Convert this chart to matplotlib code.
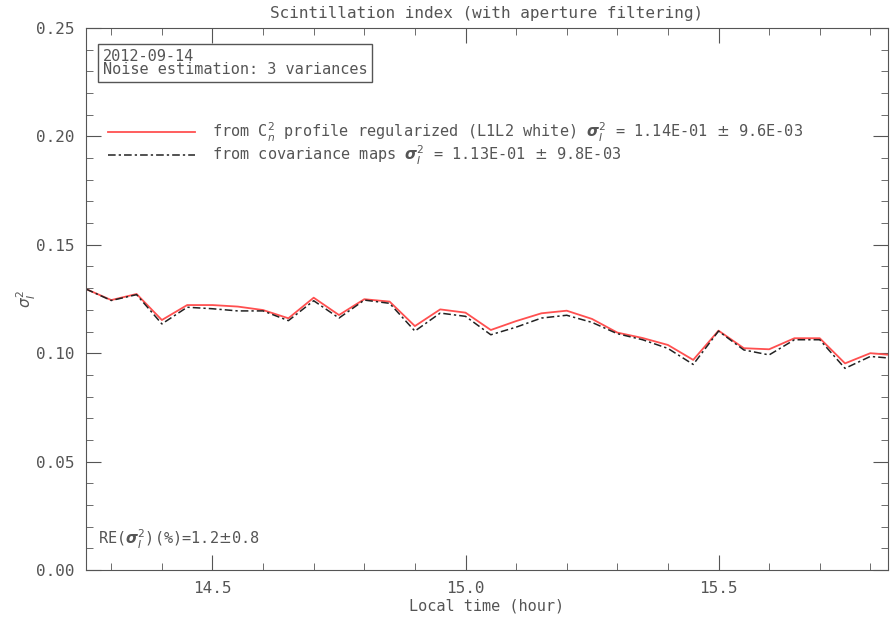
import numpy as np
import matplotlib.pyplot as plt
from matplotlib.ticker import MultipleLocator

# local time (hour), one sample every 3 minutes
hours = [14.25, 14.30, 14.35, 14.40, 14.45, 14.50, 14.55, 14.60, 14.65, 14.70,
         14.75, 14.80, 14.85, 14.90, 14.95, 15.00, 15.05, 15.10, 15.15, 15.20,
         15.25, 15.30, 15.35, 15.40, 15.45, 15.50, 15.55, 15.60, 15.65, 15.70,
         15.75, 15.80, 15.85]
sig_cn2 = [0.1296, 0.1245, 0.1273, 0.1153, 0.1222, 0.1222, 0.1215, 0.1199, 0.1161, 0.1256,
           0.1176, 0.1249, 0.1238, 0.1125, 0.1202, 0.1187, 0.1107, 0.1148, 0.1184, 0.1196,
           0.1158, 0.1095, 0.1070, 0.1038, 0.0969, 0.1104, 0.1023, 0.1018, 0.1069, 0.1069,
           0.0953, 0.1000, 0.0990]
sig_cov = [0.1296, 0.1243, 0.1270, 0.1135, 0.1212, 0.1205, 0.1195, 0.1195, 0.1150, 0.1242,
           0.1162, 0.1245, 0.1230, 0.1102, 0.1185, 0.1170, 0.1085, 0.1120, 0.1162, 0.1175,
           0.1142, 0.1090, 0.1062, 0.1022, 0.0948, 0.1102, 0.1015, 0.0992, 0.1062, 0.1062,
           0.0930, 0.0985, 0.0975]

grey = '#555555'
plt.rcParams['font.family'] = 'DejaVu Sans Mono'
plt.rcParams['mathtext.fontset'] = 'dejavusans'

fig = plt.figure(figsize=(8.9, 6.18), dpi=100)
ax = fig.add_axes([0.0966, 0.0777, 0.9012, 0.877])

ax.plot(hours, sig_cn2, color='#ff5050', lw=1.3,
        label=r'from C$_n^2$ profile regularized (L1L2 white) $\boldsymbol{\sigma}_I^2$ = 1.14E-01 $\pm$ 9.6E-03')
ax.plot(hours, sig_cov, color='#222222', lw=1.1, dashes=(5, 2, 1.5, 2),
        label=r'from covariance maps $\boldsymbol{\sigma}_I^2$ = 1.13E-01 $\pm$ 9.8E-03')

ax.set_xlim(14.25, 15.835)
ax.set_ylim(0, 0.25)
ax.xaxis.set_major_locator(MultipleLocator(0.5))
ax.xaxis.set_minor_locator(MultipleLocator(0.1))
ax.yaxis.set_major_locator(MultipleLocator(0.05))
ax.yaxis.set_minor_locator(MultipleLocator(0.01))
ax.xaxis.set_major_formatter(lambda v, p: f'{v:.1f}')
ax.yaxis.set_major_formatter(lambda v, p: f'{v:.2f}')
ax.tick_params(which='both', direction='in', top=True, right=True, color=grey,
               labelcolor=grey, labelsize=11.5)
ax.tick_params(which='major', length=11, pad=8)
ax.tick_params(which='minor', length=5)
for s in ax.spines.values():
    s.set_color(grey)

ax.set_title('Scintillation index (with aperture filtering)', color=grey, fontsize=11.5, pad=7)
ax.set_xlabel('Local time (hour)', color=grey, fontsize=11, labelpad=2)
ax.set_ylabel(r'$\sigma_I^2$', color=grey, fontsize=11)
ax.yaxis.set_label_coords(-0.06, 0.5)

ax.text(0.021, 0.962, '2012-09-14\nNoise estimation: 3 variances', transform=ax.transAxes,
        va='top', ha='left', color=grey, fontsize=11, linespacing=0.9,
        bbox=dict(boxstyle='square,pad=0.3', fc='white', ec=grey, lw=1))

leg = ax.legend(loc='upper left', bbox_to_anchor=(0.01, 0.855), frameon=False,
                fontsize=11, handlelength=5.7, handletextpad=1.1, labelspacing=0.02)
for t in leg.get_texts():
    t.set_color(grey)

ax.text(0.015, 0.035, r'RE($\boldsymbol{\sigma}_I^2$)(%)=1.2$\pm$0.8', transform=ax.transAxes,
        color=grey, fontsize=11, ha='left', va='bottom')

fig.savefig('out.png', dpi=100)
